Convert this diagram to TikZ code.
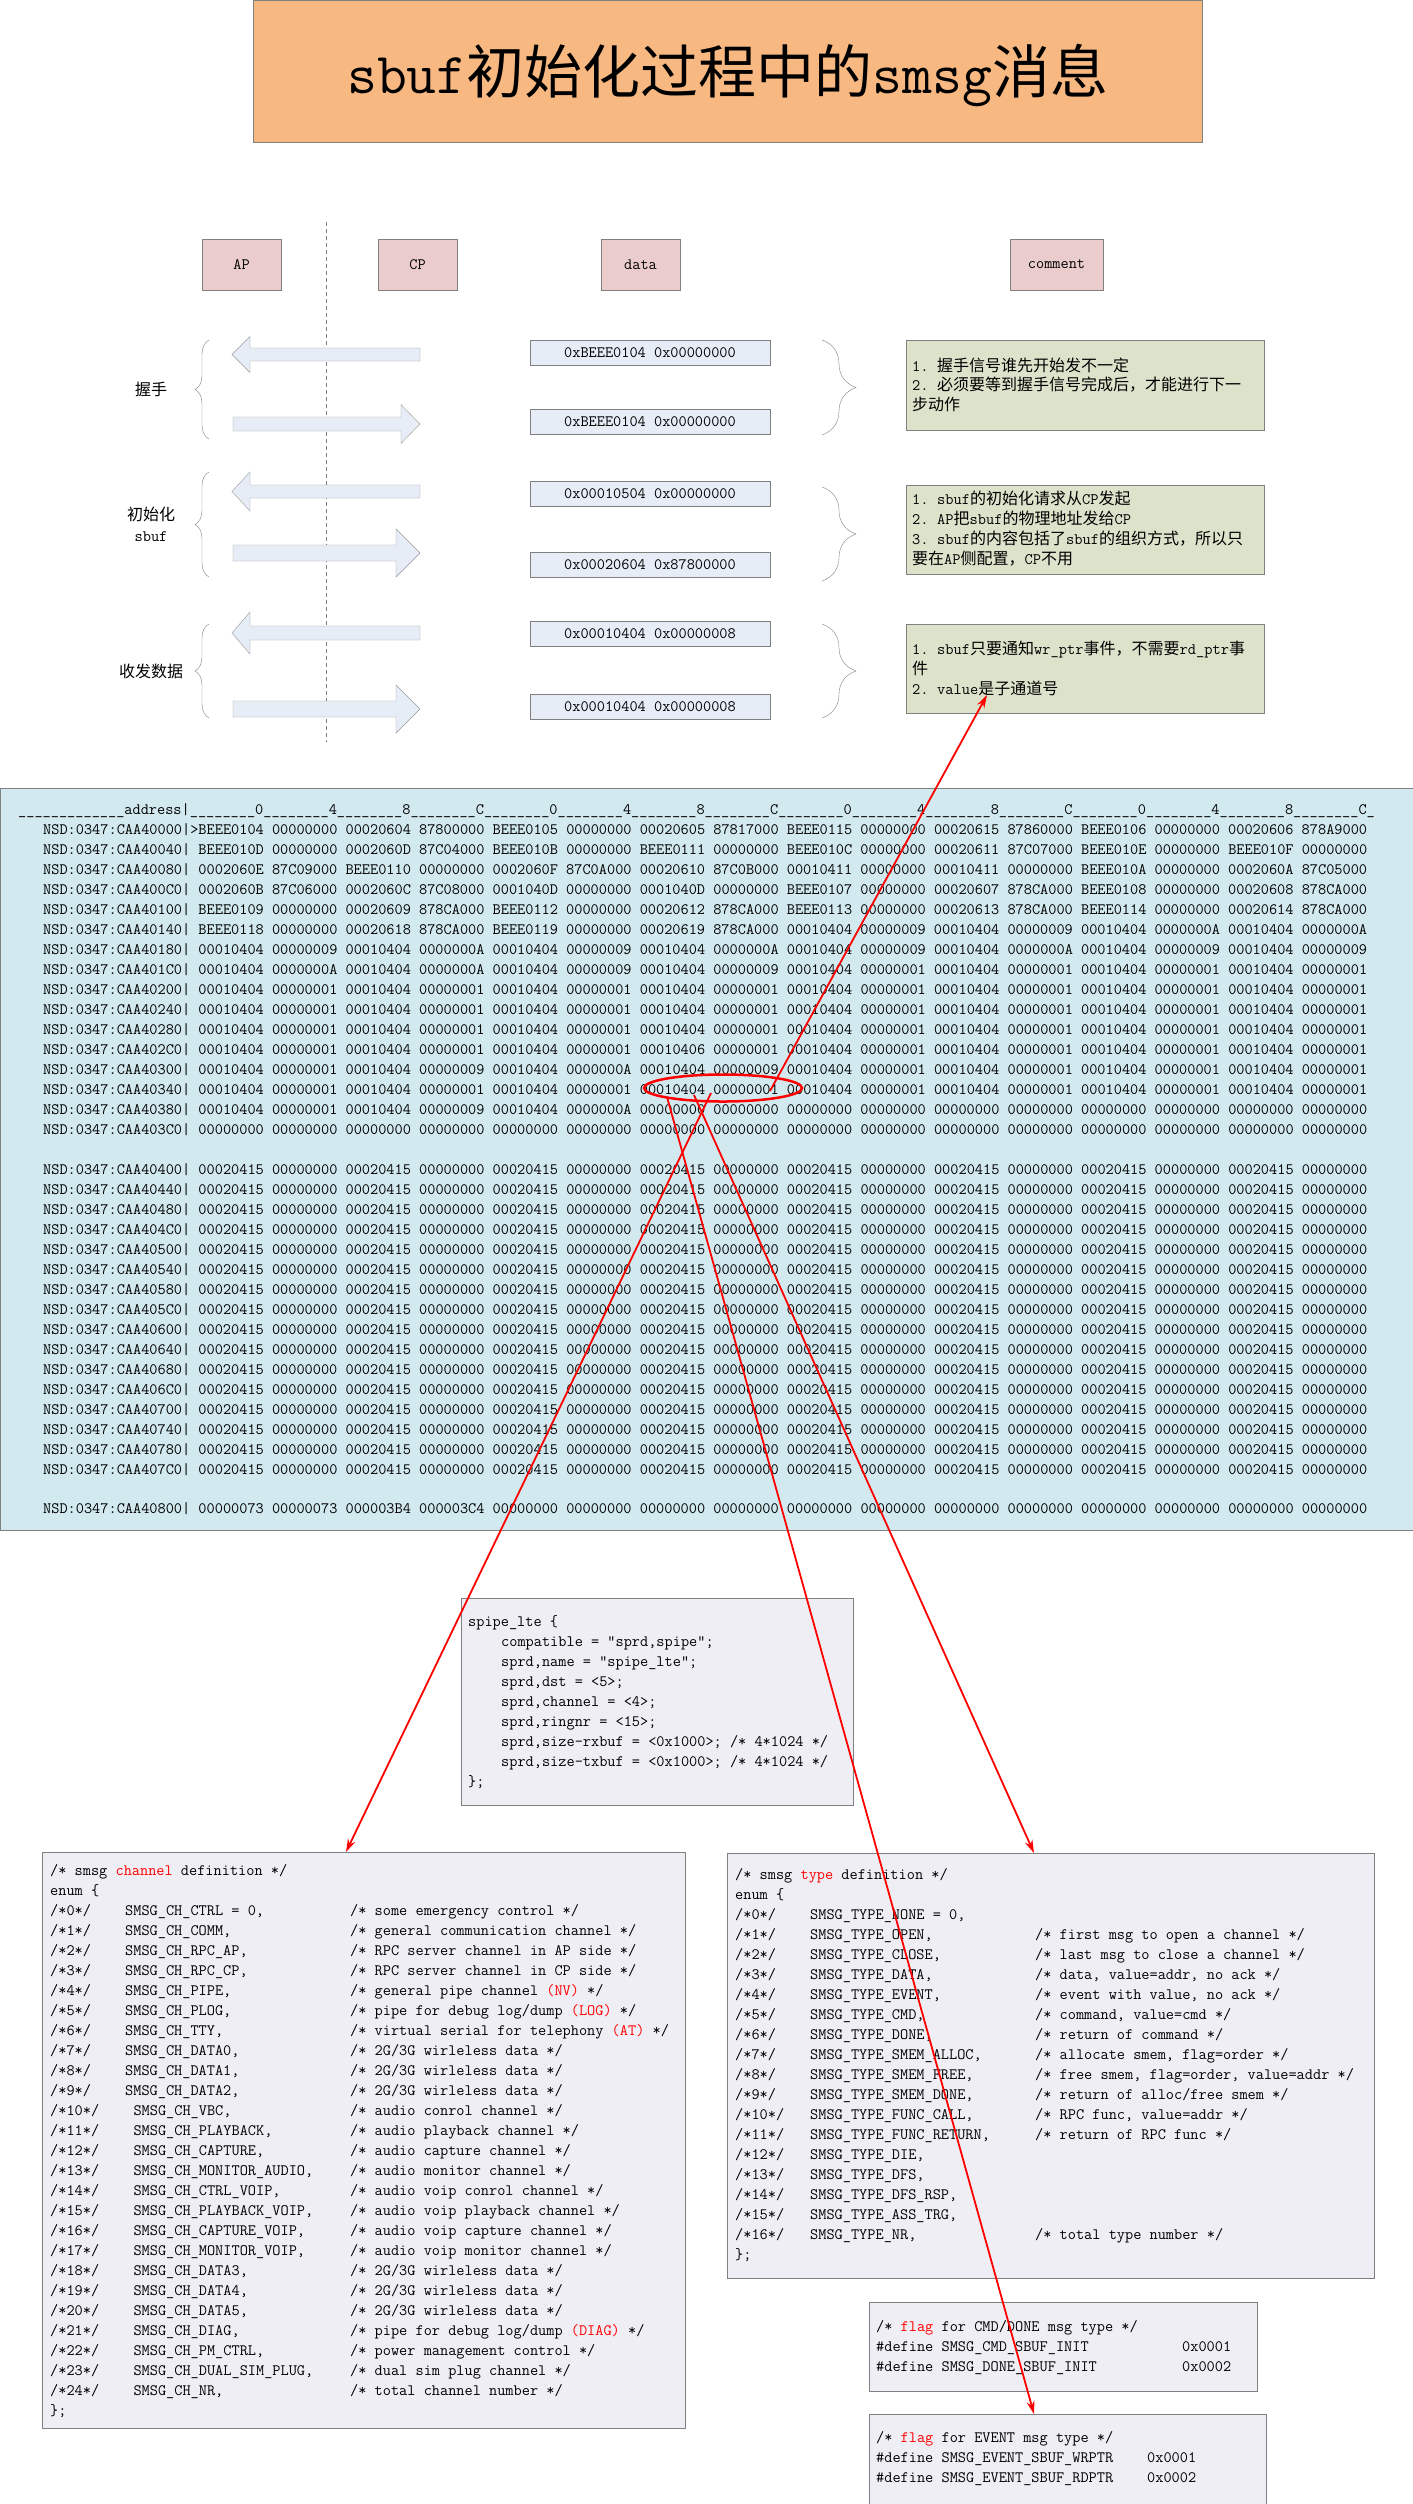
\documentclass[tikz,border=0pt]{standalone}
\usepackage{fontspec}
\newfontfamily\cjk{Noto Sans CJK SC}
\usetikzlibrary{arrows.meta,shapes.geometric,decorations.pathreplacing,calc}

\definecolor{titlefill}{RGB}{248,184,130}
\definecolor{headfill}{RGB}{234,204,204}
\definecolor{datafill}{RGB}{231,237,247}
\definecolor{notefill}{RGB}{221,227,203}
\definecolor{dumpfill}{RGB}{210,233,239}
\definecolor{codefill}{RGB}{239,238,244}
\definecolor{edge}{RGB}{128,128,128}

\newcommand\codefont{\ttfamily\fontsize{15.87}{20}\selectfont}
\newcommand\notefont{\cjk\fontsize{16}{20}\selectfont}
\newcommand\lat[1]{{\ttfamily #1}}
\newcommand\hl[1]{\textcolor{red}{#1}}
\newcommand\num[1]{\makebox[25pt][l]{\ttfamily #1}}
\newcommand\rep[2]{\foreach\ii in {1,...,#1}{#2}}

% block arrows: centre y, half body, half head (, head base)
\newcommand\leftarr[3]{\draw[blockarr] (420,{#1-#2}) -- (250,{#1-#2}) -- (250,{#1-#3}) -- (232,#1)
  -- (250,{#1+#3}) -- (250,{#1+#2}) -- (420,{#1+#2}) -- cycle;}
\newcommand\rightarr[4]{\draw[blockarr] (233,{#1-#2}) -- (#4,{#1-#2}) -- (#4,{#1-#3}) -- (420,#1)
  -- (#4,{#1+#3}) -- (#4,{#1+#2}) -- (233,{#1+#2}) -- cycle;}

% enum lines
\newcommand\chrow[3]{%
  \node[codetxt] (chi#1) at (50,{1911+20*#1}) {/*#1*/};
  \node[codetxt] (chn#1) at ({50+8.33*(9+(#1>9))},{1911+20*#1}) {#2};
  \node[codetxt] (chc#1) at (350,{1911+20*#1}) {#3};}
\newcommand\tyrow[3]{%
  \node[codetxt] (tyi#1) at (735,{1915+20*#1}) {/*#1*/};
  \node[codetxt] (tyn#1) at (810,{1915+20*#1}) {#2};
  \node[codetxt] (tyc#1) at (1035,{1915+20*#1}) {#3};}

\tikzset{
  hdrbox/.style={draw=edge, fill=headfill, minimum width=79pt, minimum height=51pt, font=\codefont},
  databox/.style={draw=edge, fill=datafill, minimum width=240pt, minimum height=25pt, font=\codefont},
  notebox/.style={draw=edge, fill=notefill, minimum width=358pt, anchor=north west},
  codebox/.style={draw=edge, fill=codefill, anchor=north west},
  codetxt/.style={font=\codefont, inner sep=0pt, text height=9.7pt, text depth=0pt, anchor=west},
  notetxt/.style={font=\notefont, inner sep=0pt, text height=12.2pt, text depth=0pt, anchor=west},
  blockarr/.style={draw=edge!80, fill=datafill},
  lbrace/.style={draw=edge, decorate, decoration={brace, amplitude=14pt}},
  rbrace/.style={draw=edge, decorate, decoration={brace, amplitude=34pt}},
  redlink/.style={red, line width=1.8pt, -{Stealth[length=13pt, width=8pt]}},
}

\begin{document}
\begin{tikzpicture}[x=1pt, y=-1pt]
\useasboundingbox (0,0) rectangle (1413,2504);
\fill[white] (0,0) rectangle (1413,2504);

% title
\node[draw=edge, fill=titlefill, minimum width=949pt, minimum height=142pt, anchor=north west] (title) at (253,0) {};
\node[font=\cjk\fontsize{58}{60}\selectfont, inner sep=0pt, text height=44pt, text depth=0pt] (titletext) at (title.center)
  {\lat{sbuf}初始化过程中的\lat{smsg}消息};

% column heads
\node[hdrbox] (ap) at (241.5,264.5) {AP};
\node[hdrbox] (cp) at (417.5,264.5) {CP};
\node[hdrbox] (data) at (640.5,264.5) {data};
\node[hdrbox, minimum width=93pt] (comment) at (1056.5,264.5) {comment};
\draw[edge, dash pattern=on 4pt off 3pt] (326,222) -- (326,742);

% messages
\leftarr{354.5}{6.5}{18}
\rightarr{424}{7}{19.5}{401}
\leftarr{491.5}{6.5}{19.5}
\rightarr{553}{8}{24}{396}
\leftarr{633}{7}{21}
\rightarr{709}{8}{24}{396}

\node[databox] (d1) at (650,352.5) {0xBEEE0104 0x00000000};
\node[databox] (d2) at (650,421.5) {0xBEEE0104 0x00000000};
\node[databox] (d3) at (650,494) {0x00010504 0x00000000};
\node[databox] (d4) at (650,565) {0x00020604 0x87800000};
\node[databox] (d5) at (650,633.5) {0x00010404 0x00000008};
\node[databox] (d6) at (650,706.5) {0x00010404 0x00000008};

\node[notetxt, anchor=center] (hs) at (151,389) {握手};
\node[notetxt, anchor=center] (init) at (151,514) {初始化};
\node[notetxt, anchor=center] (initb) at (151,535) {\lat{sbuf}};
\node[notetxt, anchor=center] (rx) at (151,671) {收发数据};

\draw[lbrace] (209,439) -- (209,340);
\draw[lbrace] (209,577) -- (209,472);
\draw[lbrace] (209,718) -- (209,624);
\draw[rbrace] (822,340) -- (822,435);
\draw[rbrace] (822,487) -- (822,581);
\draw[rbrace] (822,624) -- (822,718);

% comments
\node[notebox, minimum height=90pt] (n1) at (906,340) {};
\node[notetxt] (n1a) at (912,365) {\num{1.}握手信号谁先开始发不一定};
\node[notetxt] (n1b) at (912,384.5) {\num{2.}必须要等到握手信号完成后，才能进行下一};
\node[notetxt] (n1c) at (912,404) {步动作};
\node[notebox, minimum height=89pt] (n2) at (906,485) {};
\node[notetxt] (n2a) at (912,498) {\num{1.}\lat{sbuf}的初始化请求从\lat{CP}发起};
\node[notetxt] (n2b) at (912,518) {\num{2.}\lat{AP}把\lat{sbuf}的物理地址发给\lat{CP}};
\node[notetxt] (n2c) at (912,538.5) {\num{3.}\lat{sbuf}的内容包括了\lat{sbuf}的组织方式，所以只};
\node[notetxt] (n2d) at (912,558) {要在\lat{AP}侧配置，\lat{CP}不用};
\node[notebox, minimum height=89pt] (n3) at (906,624) {};
\node[notetxt] (n3a) at (912,648) {\num{1.}\lat{sbuf}只要通知\lat{wr\_ptr}事件，不需要\lat{rd\_ptr}事};
\node[notetxt] (n3b) at (912,668) {件};
\node[notetxt] (n3c) at (912,688) {\num{2.}\lat{value}是子通道号};

% memory dump
\node[draw=edge, fill=dumpfill, minimum width=1413pt, minimum height=742pt, anchor=north west] (dump) at (0,788) {};
\node[codetxt] (hdr) at (18,810) {\rep{13}{\_}address|\foreach\col in {0,4,8,C,0,4,8,C,0,4,8,C,0,4,8,C}{\rep{8}{\_}\col}\_};
\node[codetxt] (r0) at (43,830) {NSD:0347:CAA40000|>BEEE0104 00000000 00020604 87800000 BEEE0105 00000000 00020605 87817000 BEEE0115 00000000 00020615 87860000 BEEE0106 00000000 00020606 878A9000};
\node[codetxt] (r1) at (43,850) {NSD:0347:CAA40040| BEEE010D 00000000 0002060D 87C04000 BEEE010B 00000000 BEEE0111 00000000 BEEE010C 00000000 00020611 87C07000 BEEE010E 00000000 BEEE010F 00000000};
\node[codetxt] (r2) at (43,870) {NSD:0347:CAA40080| 0002060E 87C09000 BEEE0110 00000000 0002060F 87C0A000 00020610 87C0B000 00010411 00000000 00010411 00000000 BEEE010A 00000000 0002060A 87C05000};
\node[codetxt] (r3) at (43,890) {NSD:0347:CAA400C0| 0002060B 87C06000 0002060C 87C08000 0001040D 00000000 0001040D 00000000 BEEE0107 00000000 00020607 878CA000 BEEE0108 00000000 00020608 878CA000};
\node[codetxt] (r4) at (43,910) {NSD:0347:CAA40100| BEEE0109 00000000 00020609 878CA000 BEEE0112 00000000 00020612 878CA000 BEEE0113 00000000 00020613 878CA000 BEEE0114 00000000 00020614 878CA000};
\node[codetxt] (r5) at (43,930) {NSD:0347:CAA40140| BEEE0118 00000000 00020618 878CA000 BEEE0119 00000000 00020619 878CA000 00010404 00000009 00010404 00000009 00010404 0000000A 00010404 0000000A};
\node[codetxt] (r6) at (43,950) {NSD:0347:CAA40180| 00010404 00000009 00010404 0000000A 00010404 00000009 00010404 0000000A 00010404 00000009 00010404 0000000A 00010404 00000009 00010404 00000009};
\node[codetxt] (r7) at (43,970) {NSD:0347:CAA401C0| 00010404 0000000A 00010404 0000000A 00010404 00000009 00010404 00000009\rep{4}{ 00010404 00000001}};
\node[codetxt] (r8) at (43,990) {NSD:0347:CAA40200|\rep{8}{ 00010404 00000001}};
\node[codetxt] (r9) at (43,1010) {NSD:0347:CAA40240|\rep{8}{ 00010404 00000001}};
\node[codetxt] (r10) at (43,1030) {NSD:0347:CAA40280|\rep{8}{ 00010404 00000001}};
\node[codetxt] (r11) at (43,1050) {NSD:0347:CAA402C0| 00010404 00000001 00010404 00000001 00010404 00000001 00010406 00000001\rep{4}{ 00010404 00000001}};
\node[codetxt] (r12) at (43,1070) {NSD:0347:CAA40300| 00010404 00000001 00010404 00000009 00010404 0000000A 00010404 00000009\rep{4}{ 00010404 00000001}};
\node[codetxt] (r13) at (43,1090) {NSD:0347:CAA40340|\rep{8}{ 00010404 00000001}};
\node[codetxt] (r14) at (43,1110) {NSD:0347:CAA40380| 00010404 00000001 00010404 00000009 00010404 0000000A\rep{10}{ 00000000}};
\node[codetxt] (r15) at (43,1130) {NSD:0347:CAA403C0|\rep{16}{ 00000000}};
\foreach \a [count=\i from 0] in {40400,40440,40480,404C0,40500,40540,40580,405C0,40600,40640,40680,406C0,40700,40740,40780,407C0}
  \node[codetxt] (s\i) at (43,{1170+20*\i}) {NSD:0347:CAA\a|\rep{8}{ 00020415 00000000}};
\node[codetxt] (r800) at (43,1509) {NSD:0347:CAA40800| 00000073 00000073 000003B4 000003C4\rep{12}{ 00000000}};
\node[draw=red, line width=2.5pt, ellipse, minimum width=158pt, minimum height=27pt, inner sep=0pt] (hit) at (723,1088) {};

% spipe_lte
\node[codebox, minimum width=392pt, minimum height=207pt] (spipe) at (461,1598) {};
\node[codetxt] (sp0) at (468,1622) {spipe\_lte \{};
\node[codetxt] (sp1) at (501,1642) {compatible = "sprd,spipe";};
\node[codetxt] (sp2) at (501,1662) {sprd,name = "spipe\_lte";};
\node[codetxt] (sp3) at (501,1682) {sprd,dst = <5>;};
\node[codetxt] (sp4) at (501,1702) {sprd,channel = <4>;};
\node[codetxt] (sp5) at (501,1722) {sprd,ringnr = <15>;};
\node[codetxt] (sp6) at (501,1742) {sprd,size-rxbuf = <0x1000>; /* 4*1024 */};
\node[codetxt] (sp7) at (501,1762) {sprd,size-txbuf = <0x1000>; /* 4*1024 */};
\node[codetxt] (sp8) at (468,1782) {\};};

% channel enum
\node[codebox, minimum width=643pt, minimum height=576pt] (chbox) at (42,1852) {};
\node[codetxt] (chh) at (50,1871) {/* smsg \hl{channel} definition */};
\node[codetxt] (che) at (50,1891) {enum \{};
\chrow{0}{SMSG\_CH\_CTRL = 0,}{/* some emergency control */}
\chrow{1}{SMSG\_CH\_COMM,}{/* general communication channel */}
\chrow{2}{SMSG\_CH\_RPC\_AP,}{/* RPC server channel in AP side */}
\chrow{3}{SMSG\_CH\_RPC\_CP,}{/* RPC server channel in CP side */}
\chrow{4}{SMSG\_CH\_PIPE,}{/* general pipe channel \hl{(NV)} */}
\chrow{5}{SMSG\_CH\_PLOG,}{/* pipe for debug log/dump \hl{(LOG)} */}
\chrow{6}{SMSG\_CH\_TTY,}{/* virtual serial for telephony \hl{(AT)} */}
\chrow{7}{SMSG\_CH\_DATA0,}{/* 2G/3G wirleless data */}
\chrow{8}{SMSG\_CH\_DATA1,}{/* 2G/3G wirleless data */}
\chrow{9}{SMSG\_CH\_DATA2,}{/* 2G/3G wirleless data */}
\chrow{10}{SMSG\_CH\_VBC,}{/* audio conrol channel */}
\chrow{11}{SMSG\_CH\_PLAYBACK,}{/* audio playback channel */}
\chrow{12}{SMSG\_CH\_CAPTURE,}{/* audio capture channel */}
\chrow{13}{SMSG\_CH\_MONITOR\_AUDIO,}{/* audio monitor channel */}
\chrow{14}{SMSG\_CH\_CTRL\_VOIP,}{/* audio voip conrol channel */}
\chrow{15}{SMSG\_CH\_PLAYBACK\_VOIP,}{/* audio voip playback channel */}
\chrow{16}{SMSG\_CH\_CAPTURE\_VOIP,}{/* audio voip capture channel */}
\chrow{17}{SMSG\_CH\_MONITOR\_VOIP,}{/* audio voip monitor channel */}
\chrow{18}{SMSG\_CH\_DATA3,}{/* 2G/3G wirleless data */}
\chrow{19}{SMSG\_CH\_DATA4,}{/* 2G/3G wirleless data */}
\chrow{20}{SMSG\_CH\_DATA5,}{/* 2G/3G wirleless data */}
\chrow{21}{SMSG\_CH\_DIAG,}{/* pipe for debug log/dump \hl{(DIAG)} */}
\chrow{22}{SMSG\_CH\_PM\_CTRL,}{/* power management control */}
\chrow{23}{SMSG\_CH\_DUAL\_SIM\_PLUG,}{/* dual sim plug channel */}
\chrow{24}{SMSG\_CH\_NR,}{/* total channel number */}
\node[codetxt] (chend) at (50,2411) {\};};

% type enum
\node[codebox, minimum width=647pt, minimum height=425pt] (tybox) at (727,1853) {};
\node[codetxt] (tyh) at (735,1875) {/* smsg \hl{type} definition */};
\node[codetxt] (tye) at (735,1895) {enum \{};
\tyrow{0}{SMSG\_TYPE\_NONE = 0,}{}
\tyrow{1}{SMSG\_TYPE\_OPEN,}{/* first msg to open a channel */}
\tyrow{2}{SMSG\_TYPE\_CLOSE,}{/* last msg to close a channel */}
\tyrow{3}{SMSG\_TYPE\_DATA,}{/* data, value=addr, no ack */}
\tyrow{4}{SMSG\_TYPE\_EVENT,}{/* event with value, no ack */}
\tyrow{5}{SMSG\_TYPE\_CMD,}{/* command, value=cmd */}
\tyrow{6}{SMSG\_TYPE\_DONE,}{/* return of command */}
\tyrow{7}{SMSG\_TYPE\_SMEM\_ALLOC,}{/* allocate smem, flag=order */}
\tyrow{8}{SMSG\_TYPE\_SMEM\_FREE,}{/* free smem, flag=order, value=addr */}
\tyrow{9}{SMSG\_TYPE\_SMEM\_DONE,}{/* return of alloc/free smem */}
\tyrow{10}{SMSG\_TYPE\_FUNC\_CALL,}{/* RPC func, value=addr */}
\tyrow{11}{SMSG\_TYPE\_FUNC\_RETURN,}{/* return of RPC func */}
\tyrow{12}{SMSG\_TYPE\_DIE,}{}
\tyrow{13}{SMSG\_TYPE\_DFS,}{}
\tyrow{14}{SMSG\_TYPE\_DFS\_RSP,}{}
\tyrow{15}{SMSG\_TYPE\_ASS\_TRG,}{}
\tyrow{16}{SMSG\_TYPE\_NR,}{/* total type number */}
\node[codetxt] (tyend) at (735,2255) {\};};

% flags
\node[codebox, minimum width=388pt, minimum height=89pt] (flag1) at (869,2302) {};
\node[codetxt] (f1h) at (876,2327) {/* \hl{flag} for CMD/DONE msg type */};
\node[codetxt] (f1a) at (876,2347) {\#define SMSG\_CMD\_SBUF\_INIT};
\node[codetxt] (f1av) at (1182,2347) {0x0001};
\node[codetxt] (f1b) at (876,2367) {\#define SMSG\_DONE\_SBUF\_INIT};
\node[codetxt] (f1bv) at (1182,2367) {0x0002};
\node[codebox, minimum width=397pt, minimum height=90pt] (flag2) at (869,2414) {};
\node[codetxt] (f2h) at (876,2438) {/* \hl{flag} for EVENT msg type */};
\node[codetxt] (f2a) at (876,2458) {\#define SMSG\_EVENT\_SBUF\_WRPTR};
\node[codetxt] (f2av) at (1147,2458) {0x0001};
\node[codetxt] (f2b) at (876,2478) {\#define SMSG\_EVENT\_SBUF\_RDPTR};
\node[codetxt] (f2bv) at (1147,2478) {0x0002};

% links from the circled word
\coordinate (h1) at ($(hit.center)+(47,3)$);
\coordinate (h2) at ($(hit.center)+(-12,5)$);
\coordinate (h3) at ($(hit.center)+(-56,9)$);
\coordinate (h4) at ($(hit.center)+(-29,7)$);
\draw[redlink] (h1) -- ($(n3.north west)+(81,71)$);
\draw[redlink] (h2) -- ($(chbox.north west)+(304,0)$);
\draw[redlink] (h4) -- ($(tybox.north west)+(307,0)$);
\draw[redlink] (h3) -- ($(flag2.north west)+(165,0)$);
\end{tikzpicture}
\end{document}
